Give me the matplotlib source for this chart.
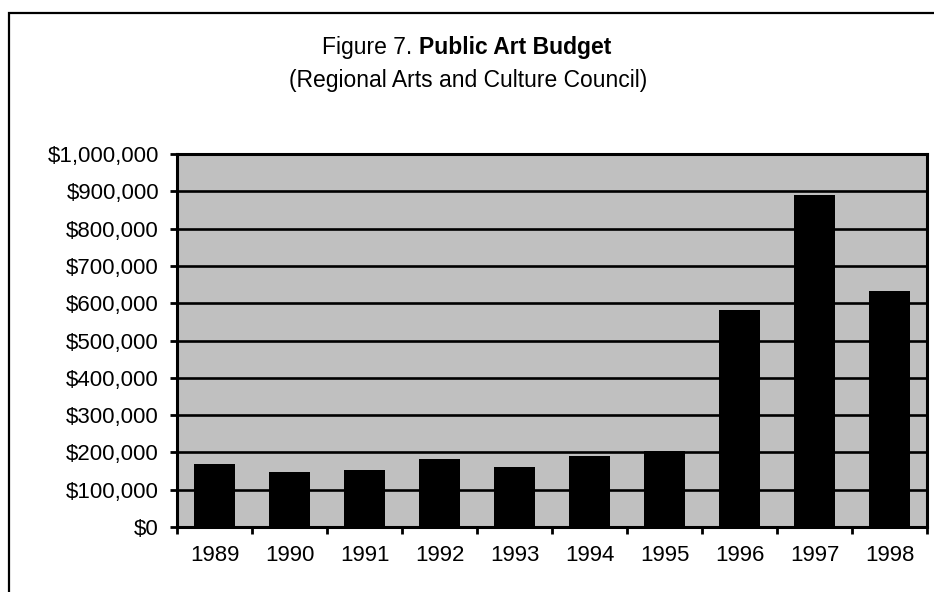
import matplotlib
matplotlib.use("Agg")
import matplotlib.pyplot as plt
from matplotlib.patches import Rectangle
from matplotlib.ticker import FuncFormatter, FixedLocator

plt.rcParams['font.family'] = ['Liberation Sans', 'DejaVu Sans']

years = ['1989', '1990', '1991', '1992', '1993', '1994', '1995', '1996', '1997', '1998']
budget = [169000, 147000, 153000, 182000, 161000, 191000, 203000, 582000, 890000, 633000]

fig = plt.figure(figsize=(9.34, 5.92), dpi=100)
ax = fig.add_axes([177 / 934, 1 - 527 / 592, 750 / 934, 373 / 592])

# рамка вокруг всей картинки (справа и снизу обрезана)
fig.patches.append(Rectangle((8.5 / 934, -0.1), 1.2, 1.1 - 12.5 / 592,
                             transform=fig.transFigure, fill=False,
                             edgecolor='black', linewidth=1.6))

x = list(range(len(years)))
ax.set_facecolor('#C0C0C0')
ax.bar(x, budget, width=0.55, color='black', zorder=3)

ax.set_xlim(-0.5, len(years) - 0.5)
ax.set_ylim(0, 1000000)
ax.set_yticks([i * 100000 for i in range(11)])
ax.yaxis.set_major_formatter(FuncFormatter(lambda v, p: '${:,.0f}'.format(v)))
ax.yaxis.grid(True, color='black', linewidth=1.9, zorder=1)
ax.set_axisbelow(True)

ax.set_xticks(x)
ax.set_xticklabels(years)
ax.xaxis.set_minor_locator(FixedLocator([i - 0.5 for i in range(len(years) + 1)]))
ax.tick_params(axis='x', which='major', length=0, pad=13, labelsize=16)
ax.tick_params(axis='x', which='minor', length=5, width=2, direction='out')
ax.tick_params(axis='y', length=5, width=2, pad=8, labelsize=16)

for s in ax.spines.values():
    s.set_linewidth(2.2)
    s.set_color('black')

# заголовок: обычная часть + жирная
t1 = fig.text(0, 1 - 47.5 / 592, 'Figure 7. ', fontsize=16.5, va='center', ha='left')
t2 = fig.text(0, 1 - 47.5 / 592, 'Public Art Budget', fontsize=16.5, fontweight='bold',
              va='center', ha='left')
fig.canvas.draw()
r = fig.canvas.get_renderer()
w1 = t1.get_window_extent(r).width
w2 = t2.get_window_extent(r).width
start = 467 - (w1 + w2) / 2
t1.set_x(start / 934)
t2.set_x((start + w1) / 934)

fig.text(468 / 934, 1 - 81 / 592, '(Regional Arts and Culture Council)', fontsize=16.5,
         va='center', ha='center')

fig.savefig('out.png', dpi=100)
